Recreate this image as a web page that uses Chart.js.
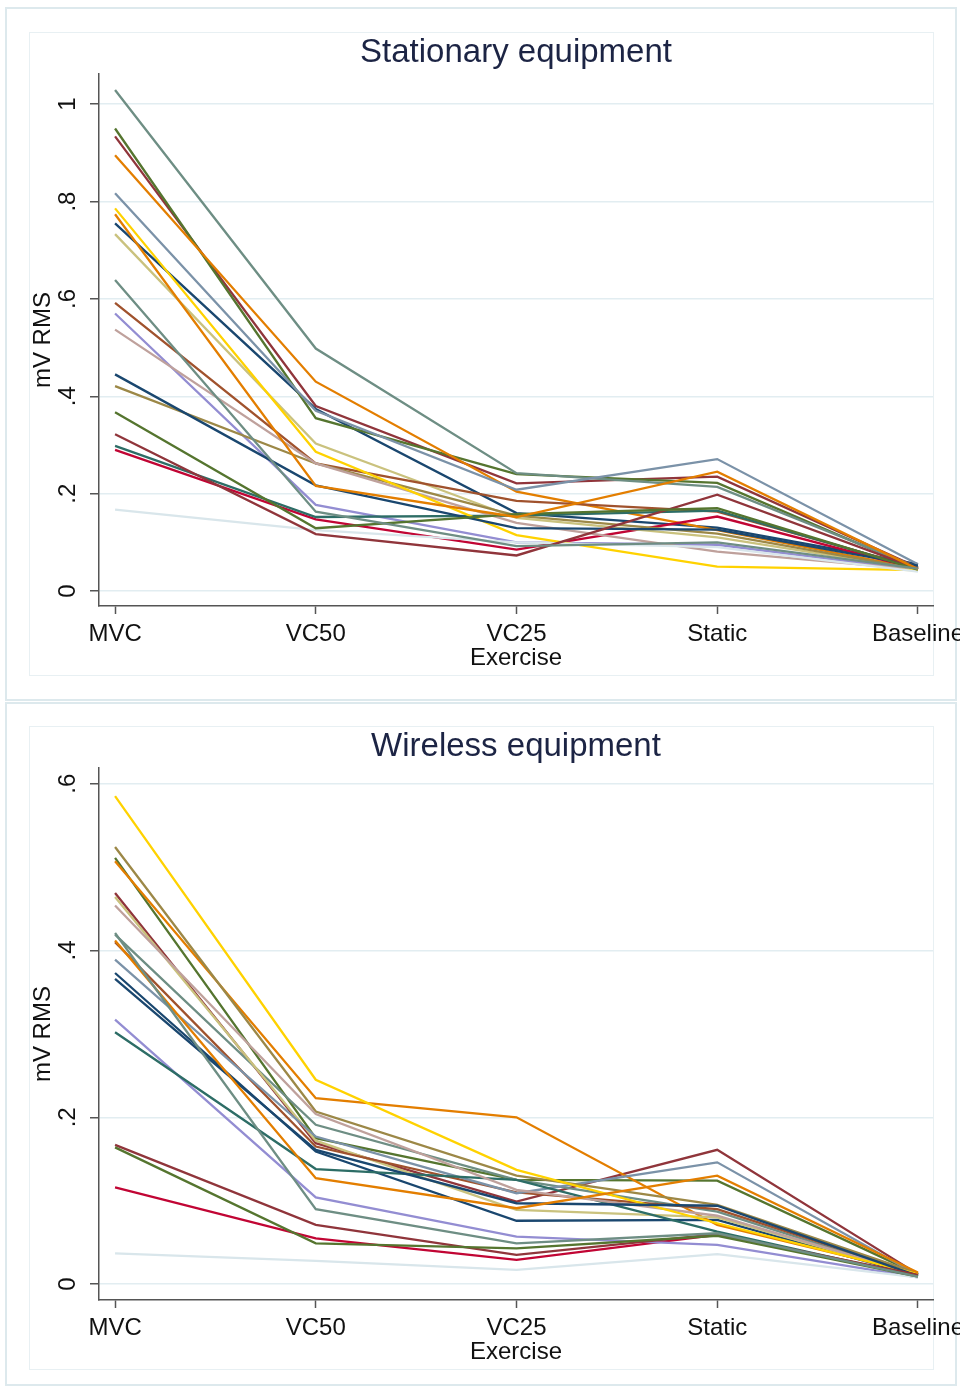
<!DOCTYPE html>
<html lang="en">
<head>
<meta charset="UTF-8">
<title>mV RMS by exercise</title>
<script src="https://cdn.jsdelivr.net/npm/chart.js"></script>
<style>
  body { margin: 0; background: #fff; width: 960px; height: 1389px; position: relative; overflow: hidden; }
  .outer { position: absolute; left: 5px; width: 952px; border: 2px solid #dde9ed; box-sizing: border-box; }
  .inner { position: absolute; left: 29px; width: 905px; height: 644px; border: 1px solid #e8f0f3; box-sizing: border-box; }
  .panel { position: absolute; left: 29px; width: 931px; height: 643px; }
</style>
</head>
<body>

<div class="outer" style="top:7px; height:694px;"></div>
<div class="outer" style="top:702px; height:684px;"></div>
<div class="inner" style="top:32px;"></div>
<div class="inner" style="top:726px;"></div>

<div class="panel" style="top:33px;"><canvas id="stationary"></canvas></div>
<div class="panel" style="top:727px;"><canvas id="wireless"></canvas></div>

<script>
var exercises = ['MVC', 'VC50', 'VC25', 'Static', 'Baseline'];

// one row per subject: MVC, VC50, VC25, Static, Baseline
var stationaryRms = [
    [0.755, 0.374, 0.160, 0.130, 0.055],
    [0.934, 0.380, 0.221, 0.235, 0.048],
    [0.950, 0.355, 0.240, 0.222, 0.045],
    [0.895, 0.430, 0.204, 0.125, 0.046],
    [1.029, 0.498, 0.242, 0.214, 0.048],
    [0.290, 0.147, 0.085, 0.153, 0.045],
    [0.570, 0.177, 0.100, 0.095, 0.043],
    [0.733, 0.303, 0.150, 0.110, 0.045],
    [0.592, 0.262, 0.185, 0.163, 0.047],
    [0.817, 0.370, 0.208, 0.271, 0.055],
    [0.298, 0.152, 0.155, 0.165, 0.046],
    [0.421, 0.262, 0.155, 0.118, 0.045],
    [0.537, 0.262, 0.140, 0.081, 0.044],
    [0.786, 0.286, 0.115, 0.050, 0.043],
    [0.167, 0.125, 0.100, 0.090, 0.040],
    [0.445, 0.217, 0.129, 0.126, 0.052],
    [0.322, 0.117, 0.073, 0.198, 0.046],
    [0.367, 0.129, 0.158, 0.170, 0.044],
    [0.774, 0.216, 0.152, 0.245, 0.045],
    [0.639, 0.163, 0.092, 0.100, 0.046]
];

var wirelessRms = [
    [0.373, 0.159, 0.076, 0.077, 0.010],
    [0.469, 0.169, 0.099, 0.161, 0.012],
    [0.511, 0.175, 0.125, 0.124, 0.012],
    [0.507, 0.223, 0.200, 0.071, 0.013],
    [0.419, 0.191, 0.125, 0.087, 0.010],
    [0.116, 0.055, 0.029, 0.059, 0.010],
    [0.317, 0.104, 0.057, 0.047, 0.008],
    [0.464, 0.172, 0.089, 0.080, 0.011],
    [0.410, 0.165, 0.110, 0.090, 0.012],
    [0.389, 0.177, 0.109, 0.146, 0.011],
    [0.302, 0.138, 0.125, 0.063, 0.009],
    [0.524, 0.207, 0.130, 0.095, 0.013],
    [0.454, 0.204, 0.113, 0.082, 0.011],
    [0.585, 0.245, 0.137, 0.073, 0.012],
    [0.037, 0.028, 0.017, 0.036, 0.008],
    [0.366, 0.161, 0.097, 0.094, 0.010],
    [0.167, 0.071, 0.035, 0.060, 0.011],
    [0.164, 0.049, 0.043, 0.058, 0.009],
    [0.412, 0.127, 0.091, 0.130, 0.014],
    [0.421, 0.090, 0.049, 0.061, 0.009]
];

var stationaryTicks = [0, 0.2, 0.4, 0.6, 0.8, 1];
var stationaryTickLabels = ['0', '.2', '.4', '.6', '.8', '1'];
var wirelessTicks = [0, 0.2, 0.4, 0.6];
var wirelessTickLabels = ['0', '.2', '.4', '.6'];

// s2color line colours, reused once they run out
var lineColors = ['#1a476f', '#90353b', '#55752f', '#e37e00', '#6e8e84', '#c10534', '#938dd2',
    '#cac27e', '#a0522d', '#7b92a8', '#2d6d66', '#9c8847', '#bfa19c', '#ffd200', '#d9e6eb'];

var fontFamily = '"Liberation Sans", Arial, sans-serif';

// y tick labels are drawn turned on their side
var sideTicks = {
    id: 'sideTicks',
    afterDraw: function (chart) {
        var scale = chart.scales.y;
        var labels = chart.options.plugins.sideTicks.labels;
        var ctx = chart.ctx;
        ctx.save();
        ctx.font = '24px ' + fontFamily;
        ctx.fillStyle = '#111';
        ctx.textAlign = 'center';
        ctx.textBaseline = 'middle';
        scale.ticks.forEach(function (t, i) {
            ctx.save();
            ctx.translate(39, scale.getPixelForValue(t.value));
            ctx.rotate(-Math.PI / 2);
            ctx.fillText(labels[i], 0, 0);
            ctx.restore();
        });
        ctx.restore();
    }
};

function makeChart(id, title, rows, ticks, tickLabels, yMin, yMax) {
    var datasets = rows.map(function (row, i) {
        return {
            data: row.map(function (v, j) { return { x: j, y: v }; }),
            borderColor: lineColors[i % lineColors.length],
            borderWidth: 2.3,
            pointRadius: 0,
            tension: 0,
            fill: false,
            order: rows.length - i
        };
    });

    new Chart(document.getElementById(id), {
        type: 'line',
        data: { datasets: datasets },
        plugins: [sideTicks],
        options: {
            responsive: true,
            maintainAspectRatio: false,
            animation: false,
            events: [],
            layout: { padding: { left: 0, right: 27, top: 0, bottom: 0 } },
            plugins: {
                legend: { display: false },
                tooltip: { enabled: false },
                sideTicks: { labels: tickLabels },
                title: {
                    display: true,
                    text: title,
                    fullSize: false,
                    color: '#1c2444',
                    font: { family: fontFamily, size: 33, weight: 'normal' },
                    padding: { top: 0, bottom: 1.6 }
                }
            },
            scales: {
                x: {
                    type: 'linear',
                    min: -0.08,
                    max: 4.075,
                    afterBuildTicks: function (s) {
                        s.ticks = exercises.map(function (_, i) { return { value: i }; });
                    },
                    afterFit: function (s) {
                        s.height = 70;
                        s.paddingLeft = 0;
                        s.paddingRight = 0;
                    },
                    ticks: {
                        autoSkip: false,
                        maxRotation: 0,
                        padding: 6,
                        color: '#111',
                        font: { family: fontFamily, size: 24 },
                        callback: function (v) { return exercises[v]; }
                    },
                    grid: { drawOnChartArea: false, tickLength: 8, tickColor: '#555', tickWidth: 1.5 },
                    border: { color: '#555', width: 1.5 },
                    title: {
                        display: true,
                        text: 'Exercise',
                        color: '#111',
                        font: { family: fontFamily, size: 24 },
                        padding: { top: 0, bottom: 3 }
                    }
                },
                y: {
                    min: yMin,
                    max: yMax,
                    afterBuildTicks: function (s) {
                        s.ticks = ticks.map(function (v) { return { value: v }; });
                    },
                    afterFit: function (s) {
                        s.width = 70;
                        s.paddingTop = 0;
                        s.paddingBottom = 0;
                    },
                    ticks: { display: false },
                    grid: { color: '#e2edf1', lineWidth: 1.5, tickLength: 9, tickColor: '#555', tickWidth: 1.5 },
                    border: { color: '#555', width: 1.5 },
                    title: {
                        display: true,
                        text: 'mV RMS',
                        color: '#111',
                        font: { family: fontFamily, size: 24 },
                        padding: 0
                    }
                }
            }
        }
    });
}

makeChart('stationary', 'Stationary equipment', stationaryRms, stationaryTicks, stationaryTickLabels, -0.0308, 1.0616);
makeChart('wireless', 'Wireless equipment', wirelessRms, wirelessTicks, wirelessTickLabels, -0.0190, 0.6185);
</script>

</body>
</html>
